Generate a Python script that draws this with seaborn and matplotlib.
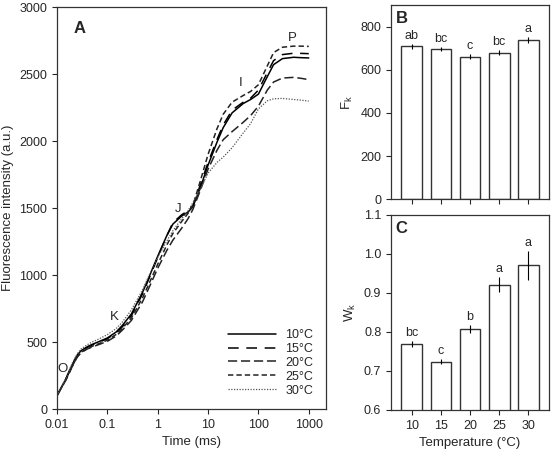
import numpy as np
import pandas as pd
import matplotlib
matplotlib.use("Agg")
import matplotlib.pyplot as plt
import seaborn as sns

# OJIP transients (time in ms)
time_ms = [0.01, 0.015, 0.02, 0.025, 0.03, 0.04, 0.05, 0.07, 0.1, 0.15, 0.2, 0.3, 0.5, 0.7,
           1, 1.5, 2, 3, 4, 5, 7, 10, 15, 20, 30, 50, 70, 100, 150, 200, 300, 500, 700, 1000]
f_10 = [100, 225, 330, 400, 435, 465, 482, 505, 530, 575, 625, 709, 870, 1000,
        1140, 1290, 1380, 1440, 1470, 1510, 1650, 1820, 1990, 2100, 2210, 2280, 2310, 2350,
        2480, 2570, 2615, 2625, 2622, 2620]
f_15 = [100, 222, 325, 395, 430, 460, 478, 500, 525, 568, 615, 696, 860, 990,
        1130, 1290, 1390, 1450, 1480, 1520, 1670, 1840, 2010, 2120, 2230, 2290, 2320, 2380,
        2510, 2600, 2645, 2655, 2654, 2652]
f_20 = [100, 215, 315, 385, 420, 448, 463, 483, 505, 545, 590, 661, 800, 920,
        1050, 1180, 1260, 1350, 1420, 1490, 1630, 1790, 1930, 2010, 2070, 2140, 2190, 2260,
        2380, 2440, 2470, 2475, 2468, 2458]
f_25 = [100, 218, 318, 388, 424, 452, 468, 490, 514, 557, 603, 679, 830, 950,
        1080, 1220, 1310, 1400, 1460, 1520, 1700, 1900, 2090, 2200, 2290, 2340, 2370, 2420,
        2560, 2660, 2700, 2708, 2708, 2706]
f_30 = [100, 230, 340, 410, 448, 480, 500, 525, 555, 600, 650, 739, 890, 1010,
        1130, 1250, 1330, 1420, 1480, 1540, 1640, 1760, 1840, 1880, 1950, 2060, 2130, 2240,
        2300, 2315, 2318, 2310, 2305, 2298]

series_labels = ["10°C", "15°C", "20°C", "25°C", "30°C"]

# bar panels
temps = ["10", "15", "20", "25", "30"]
fk = [709, 696, 661, 679, 739]
fk_err = [12, 10, 10, 12, 14]
fk_letters = ["ab", "bc", "c", "bc", "a"]
wk = [0.768, 0.724, 0.808, 0.921, 0.970]
wk_err = [0.008, 0.007, 0.010, 0.020, 0.038]
wk_letters = ["bc", "c", "b", "a", "a"]

sns.set_style("ticks")
plt.rcParams["font.family"] = ["Liberation Sans", "DejaVu Sans"]
plt.rcParams["font.size"] = 9
plt.rcParams["axes.linewidth"] = 0.9
plt.rcParams["xtick.major.size"] = 3.5
plt.rcParams["ytick.major.size"] = 3.5

fig = plt.figure(figsize=(5.57, 4.53), dpi=100)
axA = fig.add_axes([0.1023, 0.0971, 0.483, 0.8874])
axB = fig.add_axes([0.702, 0.56, 0.2837, 0.429])
axC = fig.add_axes([0.702, 0.095, 0.2837, 0.431])

# panel A
styles = ["-", (0, (7, 5)), (0, (6, 2.5)), (0, (3.5, 2)), (0, (1, 1.2))]
colors = ["black", "black", "#222222", "#222222", "#555555"]
widths = [1.1, 1.1, 1.1, 1.1, 0.9]
for vals, lab, ls, c, lw in zip([f_10, f_15, f_20, f_25, f_30], series_labels, styles, colors, widths):
    sns.lineplot(x=time_ms, y=vals, ax=axA, color=c, linewidth=lw, linestyle=ls, label=lab)

axA.set_xscale("log")
axA.set_xlim(0.01, 2200)
axA.set_ylim(0, 3000)
axA.set_xticks([0.01, 0.1, 1, 10, 100, 1000])
axA.set_xticklabels(["0.01", "0.1", "1", "10", "100", "1000"])
axA.xaxis.set_minor_locator(matplotlib.ticker.NullLocator())
axA.set_yticks(range(0, 3001, 500))
axA.set_xlabel("Time (ms)", fontsize=9.5)
axA.set_ylabel("Fluorescence intensity (a.u.)", fontsize=9.5)
axA.legend(loc="lower right", frameon=False, handlelength=3.8, fontsize=9,
           labelspacing=0.15, borderaxespad=0.6)
axA.text(0.06, 0.965, "A", transform=axA.transAxes, fontsize=12, fontweight="bold", va="top")
for s, (xx, yy) in zip("OKJIP", [(0.0128, 300), (0.14, 690), (2.5, 1490), (44, 2430), (480, 2770)]):
    axA.text(xx, yy, s, fontsize=9.5, ha="center", va="center")

# panel B
sns.barplot(x=temps, y=fk, ax=axB, color="white", edgecolor="#333333", linewidth=1,
            width=0.72, errorbar=None)
axB.errorbar(range(5), fk, yerr=fk_err, fmt="none", ecolor="black", elinewidth=0.8, capsize=0)
for i, (v, e, l) in enumerate(zip(fk, fk_err, fk_letters)):
    axB.annotate(l, (i, v + e), xytext=(0, 1.5), textcoords="offset points",
                 ha="center", va="bottom", fontsize=9)
axB.set_xlim(-0.72, 4.72)
axB.set_ylim(0, 900)
axB.set_yticks(range(0, 801, 200))
axB.set_xticklabels([])
axB.set_xlabel("")
axB.set_ylabel("F$_\\mathregular{k}$", fontsize=9.5)
axB.text(0.03, 0.97, "B", transform=axB.transAxes, fontsize=12, fontweight="bold", va="top")

# panel C
sns.barplot(x=temps, y=wk, ax=axC, color="white", edgecolor="#333333", linewidth=1,
            width=0.72, errorbar=None)
axC.errorbar(range(5), wk, yerr=wk_err, fmt="none", ecolor="black", elinewidth=0.8, capsize=0)
for i, (v, e, l) in enumerate(zip(wk, wk_err, wk_letters)):
    axC.annotate(l, (i, v + e), xytext=(0, 1.5), textcoords="offset points",
                 ha="center", va="bottom", fontsize=9)
axC.set_xlim(-0.72, 4.72)
axC.set_ylim(0.6, 1.1)
axC.set_yticks([0.6, 0.7, 0.8, 0.9, 1.0, 1.1])
axC.set_yticklabels(["0.6", "0.7", "0.8", "0.9", "1.0", "1.1"])
axC.set_xlabel("Temperature (°C)", fontsize=9.5)
axC.set_ylabel("W$_\\mathregular{k}$", fontsize=9.5)
axC.text(0.03, 0.97, "C", transform=axC.transAxes, fontsize=12, fontweight="bold", va="top")

for ax in (axA, axB, axC):
    for sp in ax.spines.values():
        sp.set_visible(True)
        sp.set_color("#333333")

fig.savefig("out.png", dpi=100)
